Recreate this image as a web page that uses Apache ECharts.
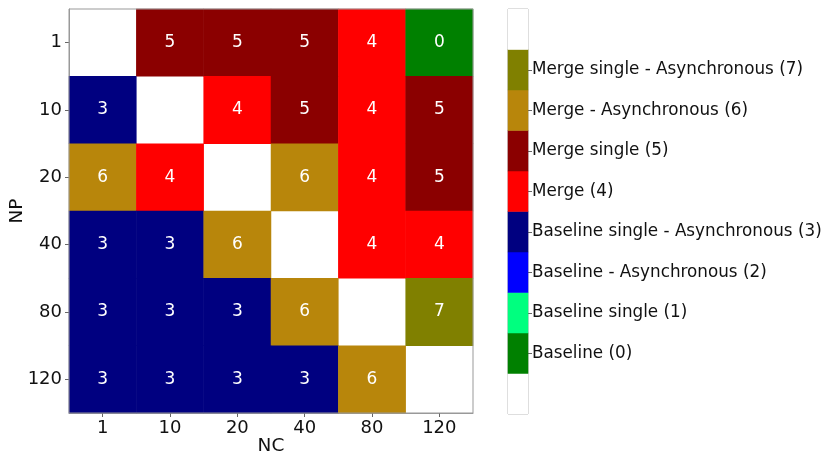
<!DOCTYPE html>
<html><head><meta charset="utf-8">
<script src="https://cdn.jsdelivr.net/npm/echarts@6/dist/echarts.min.js"></script>
<style>html,body{margin:0;padding:0;background:#fff}#c{width:827px;height:455px}</style>
</head><body><div id="c"></div>
<script>
const ncCategories = ['1','10','20','40','80','120'];
const npCategories = ['1','10','20','40','80','120'];
// rows = NP (top to bottom), cols = NC; null = empty (diagonal)
const gridValues = [
  [null,5,5,5,4,0],
  [3,null,4,5,4,5],
  [6,4,null,6,4,5],
  [3,3,6,null,4,4],
  [3,3,3,6,null,7],
  [3,3,3,3,6,null]
];
const classLabels = ['Baseline (0)','Baseline single (1)','Baseline - Asynchronous (2)','Baseline single - Asynchronous (3)','Merge (4)','Merge single (5)','Merge - Asynchronous (6)','Merge single - Asynchronous (7)'];
const classColors = ['#008000','#00ff7f','#0000ff','#000080','#ff0000','#8b0000','#b8860b','#808000'];

const heatData = [];
gridValues.forEach((row, r) => row.forEach((v, c) => {
  if (v !== null) heatData.push({value:[c, r, v], itemStyle:{color: classColors[v]}});
}));
const barCats = [''].concat(classLabels).concat(['']);
const barColors = ['#ffffff'].concat(classColors).concat(['#ffffff']);
const barData = barCats.map((l, i) => ({value:[0, i, i], itemStyle:{color: barColors[i]}}));

const font = 'DejaVu Sans';
const chart = echarts.init(document.getElementById('c'), null, {renderer:'canvas'});
chart.setOption({
  backgroundColor:'#fff',
  animation:false,
  grid:[
    {left:69, top:9, width:404, height:404, show:true, borderColor:'#999', borderWidth:1, z:10, containLabel:false, outerBoundsMode:'none'},
    {left:508, top:9, width:20, height:405, show:true, borderColor:'#aaa', borderWidth:1, containLabel:false, outerBoundsMode:'none'}
  ],
  xAxis:[
    {type:'category', gridIndex:0, data:ncCategories, name:'NC', nameLocation:'middle', nameGap:24, nameMoveOverlap:false,
     nameTextStyle:{fontFamily:font, fontSize:18.5, color:'#111'},
     axisLine:{show:true, lineStyle:{color:'#999'}}, axisTick:{show:true, alignWithLabel:true, length:4, lineStyle:{color:'#666'}},
     axisLabel:{fontFamily:font, fontSize:18, color:'#111', margin:6}, splitLine:{show:false}},
    {type:'category', gridIndex:1, data:['c'], show:false}
  ],
  yAxis:[
    {type:'category', gridIndex:0, data:npCategories, inverse:true, name:'NP', nameLocation:'middle', nameGap:42, nameRotate:90, nameMoveOverlap:false,
     nameTextStyle:{fontFamily:font, fontSize:18.5, color:'#111'},
     axisLine:{show:true, lineStyle:{color:'#999'}}, axisTick:{show:true, alignWithLabel:true, length:4, lineStyle:{color:'#666'}},
     axisLabel:{fontFamily:font, fontSize:18, color:'#111', margin:7}, splitLine:{show:false}},
    {type:'category', gridIndex:1, data:barCats, position:'right',
     axisLine:{show:false},
     axisTick:{show:true, alignWithLabel:true, length:4, interval:(i)=> i>0 && i<barCats.length-1, lineStyle:{color:'#666'}},
     axisLabel:{fontFamily:font, fontSize:16.8, color:'#111', margin:4, interval:0}, splitLine:{show:false}}
  ],
  series:[
    {type:'heatmap', xAxisIndex:0, yAxisIndex:0, data:heatData,
     label:{show:true, color:'#fff', fontFamily:font, fontSize:17, formatter:(p)=> String(p.value[2])},
     itemStyle:{borderWidth:0}, emphasis:{disabled:true}},
    {type:'heatmap', xAxisIndex:1, yAxisIndex:1, data:barData, label:{show:false}, itemStyle:{borderWidth:0}, emphasis:{disabled:true}}
  ]
});
</script></body></html>
